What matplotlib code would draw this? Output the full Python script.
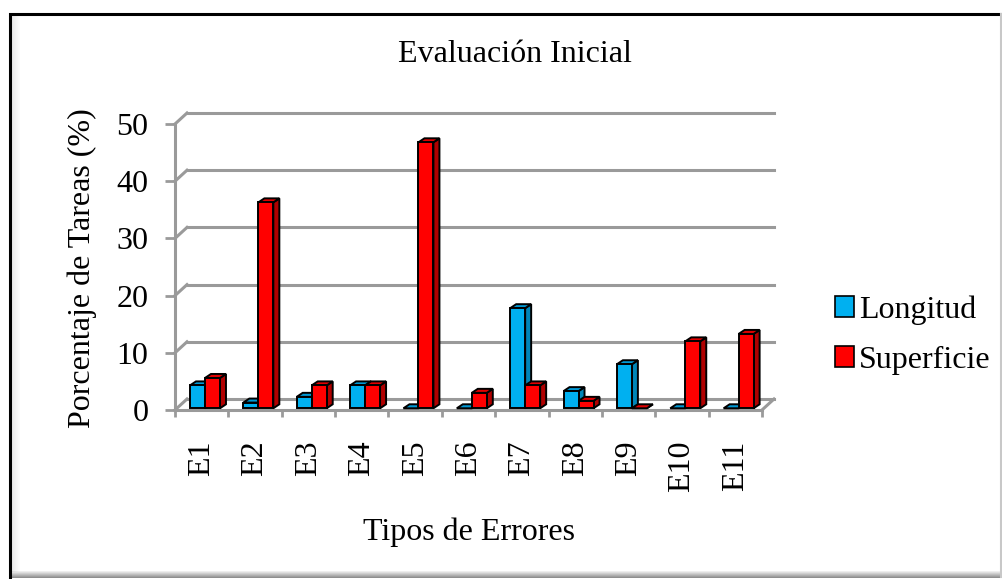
import numpy as np
import matplotlib.pyplot as plt
from matplotlib.patches import Polygon, Rectangle, Patch

plt.rcParams['font.family'] = ['Liberation Serif', 'DejaVu Serif']

# Porcentaje de tareas por tipo de error
categories = ['E1', 'E2', 'E3', 'E4', 'E5', 'E6', 'E7', 'E8', 'E9', 'E10', 'E11']
longitud = [4.0, 1.0, 2.0, 4.0, 0.0, 0.0, 17.5, 3.0, 7.7, 0.0, 0.0]
superficie = [5.3, 36.0, 4.0, 4.0, 46.5, 2.7, 4.0, 1.3, 0.0, 11.7, 13.0]
series_names = ['Longitud', 'Superficie']
yticks = [0, 10, 20, 30, 40, 50]

FS = 23
W, H = 1003, 579
fig = plt.figure(figsize=(W / 100, H / 100), dpi=100)

# marco exterior con sombra
bg = fig.add_axes([0, 0, 1, 1])
bg.set_xlim(0, W)
bg.set_ylim(H, 0)
bg.axis('off')
for i in range(8):
    a = 0.16 * (1 - i / 8)
    bg.add_patch(Rectangle((12 + i, 16), 1, 556, color='#808080', alpha=a, lw=0))
for i in range(7):
    a = 0.7 * (1 - i / 7)
    bg.add_patch(Rectangle((10, 577 - i), 992, 1, color='#606060', alpha=a, lw=0))
bg.plot([10, 10, 1000], [577, 14, 14], color='black', lw=2.2, solid_joinstyle='miter')
bg.plot([1001, 1001], [14, 577], color='#c8c8c8', lw=1.5)

# ejes: el suelo frontal va de x=175 a x=762 px, y de 0 a 50 entre 410 y 124 px
ax = fig.add_axes([175 / W, 1 - 410 / H, 587 / W, 286 / H])
n = len(categories)
ax.set_xlim(-0.5, n - 0.5)
ax.set_ylim(0, 50)
ax.patch.set_alpha(0)

px_x = 587 / n
px_y = 286 / 50
wall_dx, wall_dy = 12 / px_x, 11 / px_y
depth_dx, depth_dy = 6 / px_x, 4 / px_y

grid_c = '#9a9a9a'
# paredes y cuadricula
for t in yticks:
    ax.plot([-0.5, -0.5 + wall_dx], [t, t + wall_dy], color=grid_c, lw=2.2, clip_on=False, zorder=1)
    ax.plot([-0.5 + wall_dx, n - 0.5 + wall_dx], [t + wall_dy, t + wall_dy],
            color=grid_c, lw=2.2, clip_on=False, zorder=1)
ax.plot([n - 0.5, n - 0.5 + wall_dx], [0, wall_dy], color=grid_c, lw=2.2, clip_on=False, zorder=1)

for s in ['top', 'right']:
    ax.spines[s].set_visible(False)
for s in ['left', 'bottom']:
    ax.spines[s].set_color(grid_c)
    ax.spines[s].set_linewidth(2.2)

ax.set_yticks(yticks)
ax.set_yticklabels([str(t) for t in yticks], fontsize=FS)
ax.set_xticks(np.arange(n))
ax.set_xticklabels(categories, rotation=90, fontsize=FS, va='top')
ax.set_xticks(np.arange(n + 1) - 0.5, minor=True)
ax.tick_params(axis='x', which='major', length=0, pad=22)
ax.tick_params(axis='x', which='minor', length=5, width=2, color=grid_c)
ax.tick_params(axis='y', length=7, width=2, color=grid_c, pad=12)

# barras con efecto 3D
colors = [('#00B0F0', '#0086B8', '#0098D4'), ('#FF0000', '#B00000', '#E00000')]
bar_w = 15 / px_x
base = 0.3
offsets = [-11.7 / px_x, -11.7 / px_x + bar_w]
for i in range(n):
    for k, vals in enumerate([longitud, superficie]):
        front, side, top_c = colors[k]
        x0 = i + offsets[k]
        x1 = x0 + bar_w
        top = base + vals[i]
        side_poly = Polygon([(x1, base), (x1 + depth_dx, base + depth_dy),
                             (x1 + depth_dx, top + depth_dy), (x1, top)],
                            closed=True, facecolor=side, edgecolor='black', lw=1.4,
                            zorder=3, clip_on=False)
        top_poly = Polygon([(x0, top), (x0 + depth_dx, top + depth_dy),
                            (x1 + depth_dx, top + depth_dy), (x1, top)],
                           closed=True, facecolor=top_c, edgecolor='black', lw=1.4,
                           zorder=3, clip_on=False)
        ax.add_patch(side_poly)
        ax.add_patch(top_poly)
        if vals[i] > 0:
            ax.bar(x0, vals[i], width=bar_w, bottom=base, align='edge', color=front,
                   edgecolor='black', lw=1.4, zorder=3, clip_on=False)

fig.text(515 / W, 1 - 55 / H, 'Evaluación Inicial', ha='center', va='center', fontsize=FS)
fig.text(82 / W, 1 - 268 / H, 'Porcentaje de Tareas (%)', ha='center', va='center',
         rotation=90, fontsize=FS)
fig.text(469 / W, 1 - 532 / H, 'Tipos de Errores', ha='center', va='center', fontsize=FS)

handles = [Patch(facecolor=colors[k][0], edgecolor='black', lw=1.2) for k in range(2)]
fig.legend(handles, series_names, loc='center left', bbox_to_anchor=(822 / W, 1 - 335 / H),
           frameon=False, fontsize=FS, handlelength=0.6, handleheight=0.6,
           handletextpad=0.15, labelspacing=0.65, borderaxespad=0)

fig.savefig('out.png', dpi=100)
